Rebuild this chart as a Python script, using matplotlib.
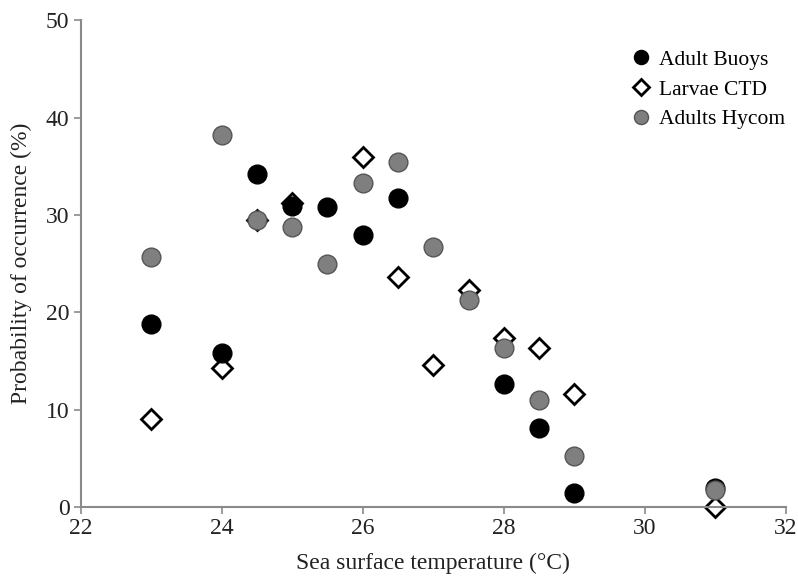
import matplotlib
matplotlib.use("Agg")
import matplotlib.pyplot as plt

temps_buoys = [23, 24, 24.5, 25, 25.5, 26, 26.5, 28, 28.5, 29, 31]
adult_buoys = [18.8, 15.8, 34.2, 30.9, 30.8, 27.9, 31.7, 12.6, 8.1, 1.4, 1.9]

temps_ctd = [23, 24, 24.5, 25, 26, 26.5, 27, 27.5, 28, 28.5, 29, 31]
larvae_ctd = [9.0, 14.3, 29.5, 31.2, 35.9, 23.6, 14.6, 22.3, 17.4, 16.3, 11.6, 0.0]

temps_hycom = [23, 24, 24.5, 25, 25.5, 26, 26.5, 27, 27.5, 28, 28.5, 29, 31]
adults_hycom = [25.7, 38.2, 29.5, 28.8, 25.0, 33.3, 35.4, 26.7, 21.3, 16.3, 11.0, 5.2, 1.7]

plt.rcParams['font.family'] = ['Liberation Serif', 'DejaVu Serif']

fig = plt.figure(figsize=(7.98, 5.78), dpi=100)
ax = fig.add_axes([0.101, 0.123, 0.884, 0.842])

ax.plot(temps_buoys, adult_buoys, linestyle='none', marker='o', markersize=13.5,
        markerfacecolor='black', markeredgecolor='black', markeredgewidth=1,
        label='Adult Buoys', zorder=3, clip_on=False)
ax.plot(temps_ctd, larvae_ctd, linestyle='none', marker='D', markersize=10.5,
        markerfacecolor='white', markeredgecolor='black', markeredgewidth=2,
        label='Larvae CTD', zorder=2, clip_on=False)
ax.plot(temps_hycom, adults_hycom, linestyle='none', marker='o', markersize=13.5,
        markerfacecolor='#7f7f7f', markeredgecolor='#555555', markeredgewidth=1,
        label='Adults Hycom', zorder=4, clip_on=False)

ax.set_xlim(22, 32)
ax.set_ylim(0, 50)
ax.set_xticks([22, 24, 26, 28, 30, 32])
ax.set_yticks([0, 10, 20, 30, 40, 50])

for s in ['top', 'right']:
    ax.spines[s].set_visible(False)
for s in ['left', 'bottom']:
    ax.spines[s].set_color('#8a8a8a')
    ax.spines[s].set_linewidth(1.5)
ax.tick_params(axis='both', direction='out', length=5, width=1.2, color='#8a8a8a',
               labelsize=17, labelcolor='#222222', pad=3)

ax.set_xlabel('Sea surface temperature (°C)', fontsize=17, color='#222222', labelpad=10)
ax.set_ylabel('Probability of occurrence (%)', fontsize=17, color='#222222', labelpad=10)

leg = ax.legend(loc='upper right', bbox_to_anchor=(1.02, 0.97), frameon=False, fontsize=15.5,
                handletextpad=0.35, labelspacing=0.45, handlelength=1.0, borderaxespad=0.3,
                markerscale=0.75)

fig.savefig('out.png', dpi=100)
